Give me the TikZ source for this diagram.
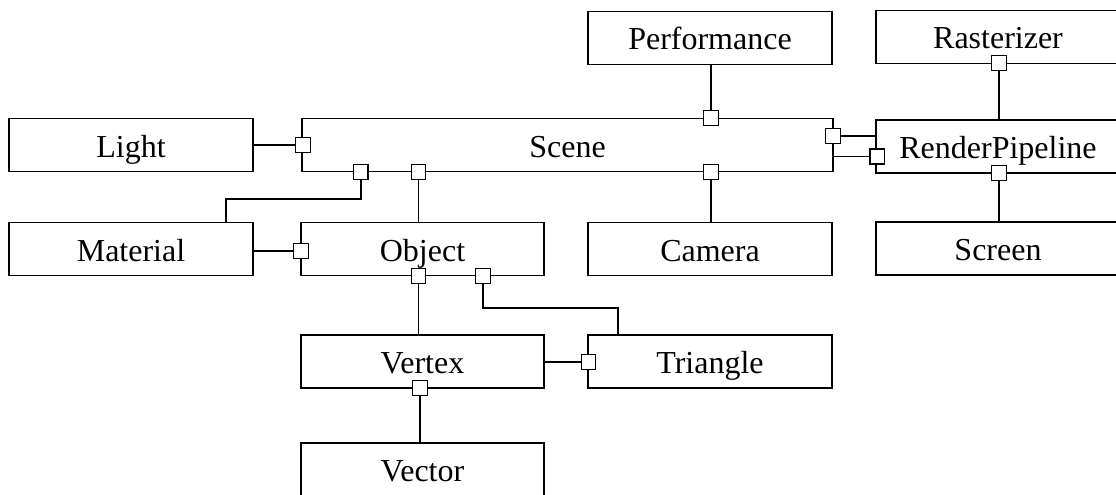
\documentclass[tikz,border=0pt]{standalone}
\usepackage{fontspec}
\setmainfont{Liberation Serif}
\begin{document}
\begin{tikzpicture}[x=1pt,y=-1pt,
  cls/.style={draw=black,line width=1.1pt,rectangle,minimum height=53pt,
    minimum width=244pt,inner sep=0pt,text height=24pt,text depth=0pt,
    font=\fontsize{32}{36}\selectfont},
  port/.style={draw=black,fill=white,line width=1.2pt,rectangle,
    minimum width=14.5pt,minimum height=15pt,inner sep=0pt},
  conn/.style={draw=black,line width=1.6pt}]
\useasboundingbox (0,0) rectangle (1116,495);

% classes
\node[cls] (perf)   at (710,38)    {Performance};
\node[cls] (rast)   at (998,36.7)  {Rasterizer};
\node[cls] (light)  at (131,145)   {Light};
\node[cls,minimum width=531pt] (scene) at (567.5,145) {Scene};
\node[cls] (rp)     at (998,146.5) {RenderPipeline};
\node[cls] (mat)    at (131,249)   {Material};
\node[cls,minimum width=243pt] (obj) at (422.5,249) {Object};
\node[cls] (cam)    at (710,249)   {Camera};
\node[cls] (scr)    at (998,248.5) {Screen};
\node[cls,minimum width=243pt] (vtx) at (422.5,361.5) {Vertex};
\node[cls] (tri)    at (710,361.5) {Triangle};
\node[cls,minimum width=243pt] (vec) at (422.5,469.5) {Vector};

% ports
\node[port] (pLight)  at (303,145.2)   {};
\node[port] (pPerf)   at (711,118.3)   {};
\node[port] (pRp1)    at (833,135.7)   {};
\node[port] (pRp2)    at (877.3,156.4) {};
\node[port] (pRast)   at (999,63.3)    {};
\node[port] (pMat)    at (360.7,171.7) {};
\node[port] (pObj)    at (418.6,171.7) {};
\node[port] (pCam)    at (711,171.7)   {};
\node[port] (pScr)    at (999,173)     {};
\node[port] (pMatObj) at (301,251)     {};
\node[port] (pVtx)    at (418.6,276)   {};
\node[port] (pTri)    at (483,276)     {};
\node[port] (pVT)     at (588.5,361.7) {};
\node[port] (pVec)    at (420,388)     {};

% connectors
\coordinate (bendA) at (225.7,199);
\coordinate (bendB) at (618,307.7);
\draw[conn] (pLight.west) -- (pLight.west -| light.east);
\draw[conn] (pPerf.north) -- (pPerf.north |- perf.south);
\draw[conn] (pRp1.east) -- (pRp1.east -| rp.west);
\draw[conn] (pRp2.west) -- (pRp2.west -| scene.east);
\draw[conn] (pRast.south) -- (pRast.south |- rp.north);
\draw[conn] (pMat.south) |- (bendA) -- (bendA |- mat.north);
\draw[conn] (pObj.south) -- (pObj.south |- obj.north);
\draw[conn] (pCam.south) -- (pCam.south |- cam.north);
\draw[conn] (pScr.south) -- (pScr.south |- scr.north);
\draw[conn] (pMatObj.west) -- (pMatObj.west -| mat.east);
\draw[conn] (pVtx.south) -- (pVtx.south |- vtx.north);
\draw[conn] (pTri.south) |- (bendB) -- (bendB |- tri.north);
\draw[conn] (pVT.west) -- (pVT.west -| vtx.east);
\draw[conn] (pVec.south) -- (pVec.south |- vec.north);
\end{tikzpicture}
\end{document}
